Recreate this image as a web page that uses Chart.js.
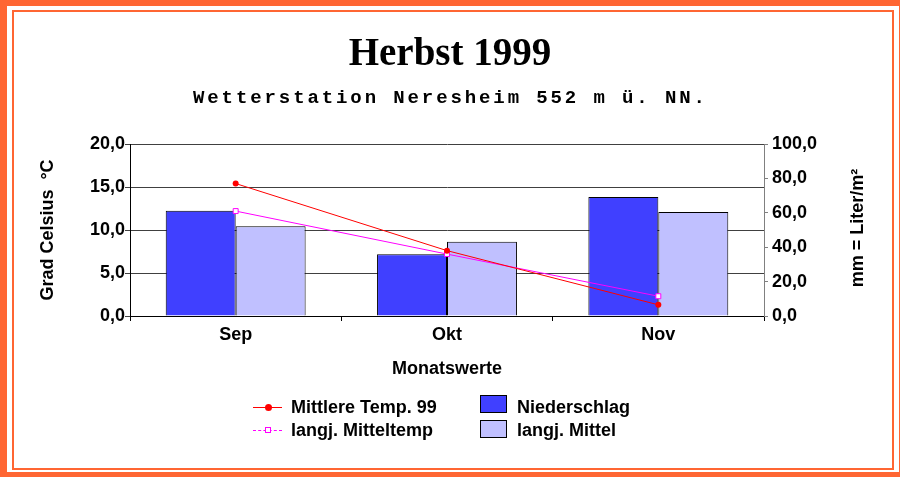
<!DOCTYPE html>
<html>
<head>
<meta charset="utf-8">
<script src="https://cdn.jsdelivr.net/npm/chart.js@4"></script>
<style>
html,body{margin:0;padding:0;background:#fff;}
#wrap{position:relative;width:900px;height:477px;overflow:hidden;font-family:"Liberation Sans",Arial,sans-serif;}
.frame{position:absolute;box-sizing:border-box;border-style:solid;border-color:#FF6633;}
#outer{left:0;top:0;width:900px;height:477px;border-width:6px 1px 5px 7px;}
#inner{left:12px;top:10px;width:882px;height:460px;border-width:2px;}
#chart{position:absolute;left:0;top:0;}
.lg{position:absolute;font-weight:bold;font-size:18px;line-height:22px;color:#000;white-space:nowrap;}
.ln{position:absolute;}
.mk{position:absolute;box-sizing:border-box;}
.bx{position:absolute;box-sizing:border-box;border:1px solid #000;width:27px;height:18px;}
</style>
</head>
<body>
<div id="wrap">
  <div id="outer" class="frame"></div>
  <div id="inner" class="frame"></div>
  <canvas id="chart" width="900" height="477"></canvas>

  <div class="ln" style="left:253px;top:407px;width:29px;height:1px;background:#ff0000"></div>
  <div class="mk" style="left:265px;top:404px;width:7px;height:7px;border-radius:50%;background:#ff0000"></div>
  <div class="lg" style="left:291px;top:396px">Mittlere Temp. 99</div>

  <div class="ln" style="left:253px;top:430px;width:29px;height:0;border-top:1px dashed #ff00ff"></div>
  <div class="mk" style="left:265px;top:427px;width:6px;height:6px;border:1px solid #ff00ff;background:#fff"></div>
  <div class="lg" style="left:291px;top:419px">langj. Mitteltemp</div>

  <div class="bx" style="left:480px;top:395px;background:#4040ff"></div>
  <div class="lg" style="left:517px;top:396px">Niederschlag</div>
  <div class="bx" style="left:480px;top:420px;background:#c0c0ff"></div>
  <div class="lg" style="left:517px;top:419px">langj. Mittel</div>
</div>
<script>
const months = ['Sep', 'Okt', 'Nov'];
const tempMittel99 = [15.4, 7.6, 1.3];
const tempLangjMittel = [12.2, 7.2, 2.3];
const niederschlag = [61.2, 35.9, 69.2];
const niederschlagLangj = [52.2, 43.2, 60.5];

const sans = '"Liberation Sans", Arial, sans-serif';
const fmt = v => v.toFixed(1).replace('.', ',');

// subtitle is drawn wide-spaced, and the right axis title reads bottom-to-top
const extraText = {
  id: 'extraText',
  afterDraw(c) {
    const ctx = c.ctx, a = c.chartArea;
    ctx.save();
    ctx.fillStyle = '#000';
    ctx.textBaseline = 'middle';
    ctx.textAlign = 'left';
    ctx.font = 'bold 19px "Liberation Mono", "Courier New", monospace';
    ctx.letterSpacing = '2.9px';
    const sub = 'Wetterstation Neresheim 552 m ü. NN.';
    const w = ctx.measureText(sub).width - 2.9;
    ctx.fillText(sub, (a.left + a.right) / 2 + 2 - w / 2, 98);
    ctx.letterSpacing = '0px';
    ctx.translate(a.right + 94, (a.top + a.bottom) / 2 - 2);
    ctx.rotate(-Math.PI / 2);
    ctx.font = 'bold 18px ' + sans;
    ctx.textAlign = 'center';
    ctx.fillText('mm = Liter/m²', 0, 0);
    ctx.restore();
  }
};

new Chart(document.getElementById('chart'), {
  type: 'bar',
  data: {
    labels: months,
    datasets: [
      {type: 'line', label: 'Mittlere Temp. 99', data: tempMittel99, yAxisID: 'y',
       borderColor: '#ff0000', borderWidth: 1, tension: 0,
       pointStyle: 'circle', pointRadius: 3, pointBackgroundColor: '#ff0000', pointBorderWidth: 0},
      {type: 'line', label: 'langj. Mitteltemp', data: tempLangjMittel, yAxisID: 'y',
       borderColor: '#ff00ff', borderWidth: 1, tension: 0,
       pointStyle: 'rect', pointRadius: 3.5, pointBackgroundColor: '#ffffff',
       pointBorderColor: '#ff00ff', pointBorderWidth: 1},
      {label: 'Niederschlag', data: niederschlag, yAxisID: 'y1',
       backgroundColor: '#4040ff', borderColor: '#000', borderWidth: 1,
       categoryPercentage: 0.662, barPercentage: 1},
      {label: 'langj. Mittel', data: niederschlagLangj, yAxisID: 'y1',
       backgroundColor: '#c0c0ff', borderColor: '#000', borderWidth: 1,
       categoryPercentage: 0.662, barPercentage: 1}
    ]
  },
  options: {
    responsive: false,
    animation: false,
    devicePixelRatio: 1,
    layout: {padding: {top: 0, left: 0, right: 0, bottom: 97}},
    plugins: {
      legend: {display: false},
      tooltip: {enabled: false},
      title: {display: true, text: 'Herbst 1999', color: '#000',
        font: {family: '"Liberation Serif", "Times New Roman", serif', size: 39, weight: 'bold'},
        padding: {top: 32, bottom: 65.2}}
    },
    scales: {
      x: {
        grid: {drawOnChartArea: false, offset: true, tickLength: 5, color: '#000'},
        border: {color: '#000'},
        ticks: {color: '#000', padding: 3, font: {family: sans, size: 18, weight: 'bold'}},
        title: {display: true, text: 'Monatswerte', color: '#000',
          font: {family: sans, size: 18, weight: 'bold'}, padding: {top: 0, bottom: 0}},
        afterFit: s => { s.height = 64; }
      },
      y: {
        position: 'left', min: 0, max: 20,
        grid: {color: '#404040', tickLength: 5},
        border: {color: '#000'},
        ticks: {stepSize: 5, color: '#000', padding: 0, callback: fmt,
          font: {family: sans, size: 18, weight: 'bold'}},
        title: {display: true, text: 'Grad Celsius  °C', color: '#000',
          font: {family: sans, size: 18, weight: 'bold'}, padding: {top: 37, bottom: 0}},
        afterFit: s => { s.width = 130; }
      },
      y1: {
        position: 'right', min: 0, max: 100,
        grid: {drawOnChartArea: false, color: '#808080', tickLength: 4},
        border: {color: '#808080'},
        ticks: {stepSize: 20, color: '#000', padding: 4, callback: fmt,
          font: {family: sans, size: 18, weight: 'bold'}},
        afterFit: s => { s.width = 136; }
      }
    }
  },
  plugins: [extraText]
});
</script>
</body>
</html>
